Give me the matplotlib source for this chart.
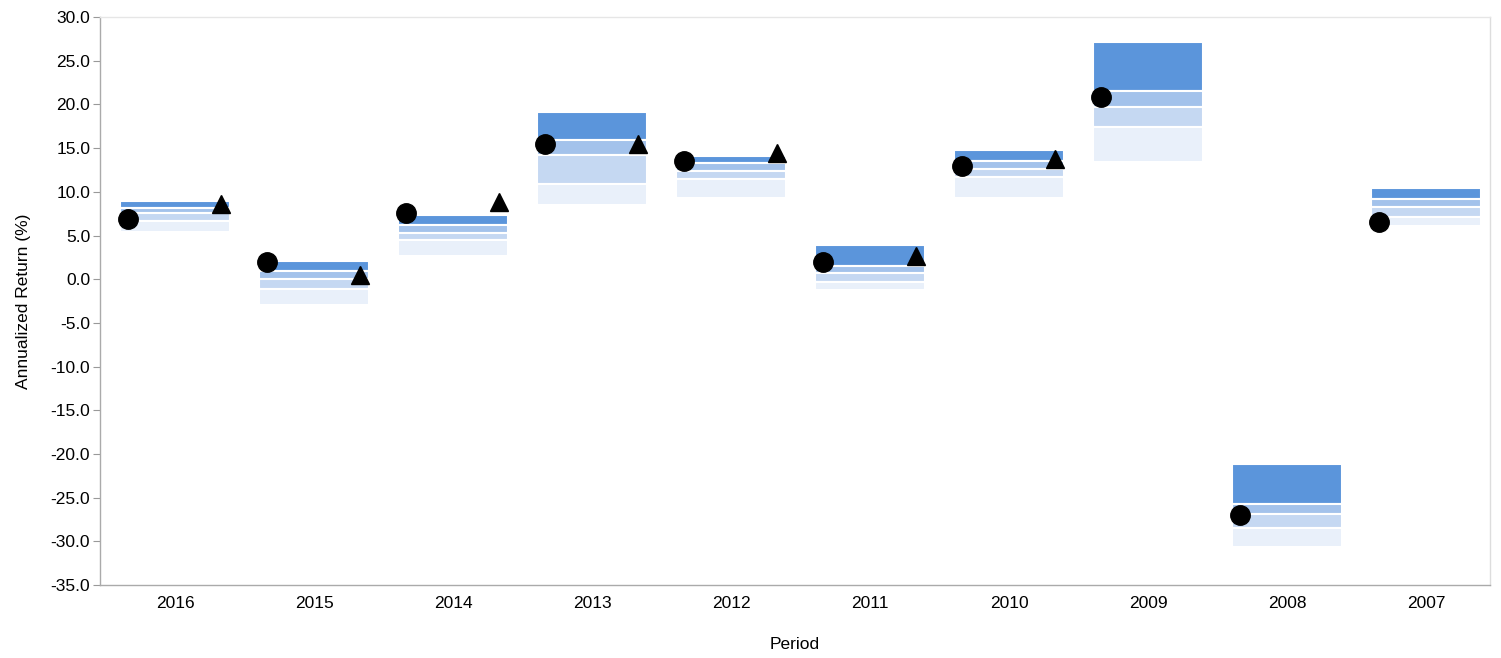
import matplotlib.pyplot as plt
import numpy as np

plt.rcParams['font.family'] = ['Liberation Sans', 'DejaVu Sans']

periods = ["2016", "2015", "2014", "2013", "2012", "2011", "2010", "2009", "2008", "2007"]

# quartile breakpoints: 5th, 25th, median, 75th, 95th percentile
p05 = [8.9, 2.1, 7.3, 19.1, 14.1, 3.9, 14.8, 27.1, -21.2, 10.4]
p25 = [8.2, 0.9, 6.2, 15.9, 13.3, 1.5, 13.5, 21.5, -25.7, 9.2]
p50 = [7.6, 0.0, 5.3, 14.2, 12.4, 0.7, 12.6, 19.7, -26.9, 8.3]
p75 = [6.7, -1.1, 4.5, 10.9, 11.5, -0.3, 11.7, 17.4, -28.5, 7.1]
p95 = [5.4, -3.0, 2.7, 8.5, 9.3, -1.2, 9.3, 13.4, -30.6, 6.1]

fund = [6.9, 2.0, 7.6, 15.5, 13.5, 2.0, 13.0, 20.9, -27.0, 6.6]
bench = [8.6, 0.45, 8.8, 15.5, 14.4, 2.6, 13.8, None, None, None]

colors = ["#5B95DB", "#A3C2EB", "#C5D8F2", "#E9F0FA"]

fig = plt.figure(figsize=(15.01, 6.58), dpi=100)
ax = fig.add_axes([0.0666, 0.111, 0.926, 0.863])

x = np.arange(len(periods))
tops = [p05, p25, p50, p75]
bots = [p25, p50, p75, p95]
for top, bot, c in zip(tops, bots, colors):
    top = np.array(top)
    bot = np.array(bot)
    ax.bar(x, top - bot, bottom=bot, width=0.79, color=c,
           edgecolor="white", linewidth=1.5, zorder=2)

ax.plot(x - 0.34, fund, "o", color="black", markersize=14, zorder=4)
bx = [xi + 0.33 for xi, b in zip(x, bench) if b is not None]
by = [b for b in bench if b is not None]
ax.plot(bx, by, "^", color="black", markersize=13, zorder=4)

ax.set_xlim(-0.54, 9.46)
ax.set_ylim(-35, 30)
ax.set_yticks(np.arange(-35, 31, 5))
ax.set_yticklabels([f"{v:.1f}" for v in np.arange(-35, 31, 5)])
ax.set_xticks(x)
ax.set_xticklabels(periods)
ax.tick_params(axis="y", labelsize=12.5, direction="out", length=5, color="#999999", pad=2)
ax.tick_params(axis="x", labelsize=12.5, length=0, pad=8)
for s in ax.spines.values():
    s.set_color("#aaaaaa")
    s.set_linewidth(1)
ax.spines["top"].set_color("#e6e6e6")
ax.spines["right"].set_color("#dddddd")

ax.set_xlabel("Period", fontsize=12.5, labelpad=19)
ax.set_ylabel("Annualized Return (%)", fontsize=12.5, labelpad=14)

fig.savefig("out.png", dpi=100)
